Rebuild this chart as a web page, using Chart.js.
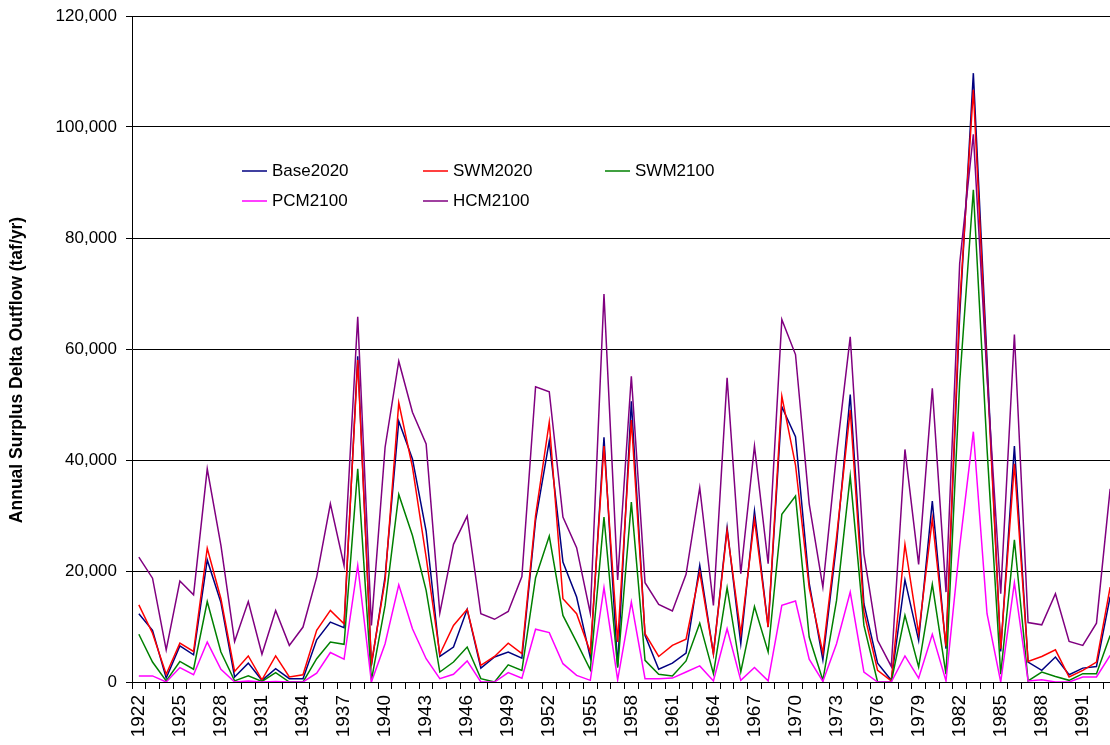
<!DOCTYPE html>
<html>
<head>
<meta charset="utf-8">
<script src="https://cdn.jsdelivr.net/npm/chart.js@4.4.1/dist/chart.umd.min.js"></script>
<style>
  html, body { margin: 0; padding: 0; background: #ffffff; overflow: hidden; width: 1110px; height: 745px; }
  #wrap { position: absolute; left: 0; top: 0; width: 1122px; height: 745px; }
</style>
</head>
<body>
<div id="wrap"><canvas id="c" width="1122" height="745"></canvas></div>
<script>
// Water years on the category axis
const years = [
  '1922','1923','1924','1925','1926','1927','1928','1929','1930','1931',
  '1932','1933','1934','1935','1936','1937','1938','1939','1940','1941',
  '1942','1943','1944','1945','1946','1947','1948','1949','1950','1951',
  '1952','1953','1954','1955','1956','1957','1958','1959','1960','1961',
  '1962','1963','1964','1965','1966','1967','1968','1969','1970','1971',
  '1972','1973','1974','1975','1976','1977','1978','1979','1980','1981',
  '1982','1983','1984','1985','1986','1987','1988','1989','1990','1991',
  '1992','1993'
];

// Annual surplus Delta outflow by scenario (taf/yr)
const base2020 = [
  12300, 9300, 700, 6500, 4900, 22000, 14300, 900, 3400, 300,
  2400, 600, 600, 7600, 10800, 9800, 58700, 3000, 19000, 47000,
  40200, 27200, 4600, 6300, 13100, 2500, 4500, 5400, 4300, 29100,
  43400, 21600, 15300, 4400, 44100, 2800, 50600, 8400, 2300, 3400,
  5200, 21000, 5100, 27800, 6900, 30800, 9900, 49600, 44200, 17800,
  4000, 24900, 51800, 14100, 3400, 300, 18400, 7500, 32600, 6000,
  66000, 109700, 58000, 5500, 42500, 3600, 2100, 4500, 1300, 2500,
  2800, 15400
];
const swm2020 = [
  13900, 8800, 1400, 7000, 5500, 24100, 15000, 1900, 4700, 400,
  4700, 900, 1300, 9300, 12900, 10500, 58000, 3300, 18300, 50300,
  38700, 22500, 5000, 10200, 13100, 3000, 4600, 7000, 5100, 30000,
  46800, 15000, 12300, 5400, 42500, 7200, 47200, 8700, 4600, 6600,
  7700, 19800, 5100, 27300, 8700, 29300, 9900, 51500, 39100, 17000,
  5200, 26100, 49000, 12600, 2100, 200, 24800, 8700, 29400, 6400,
  68000, 106700, 56000, 6000, 39300, 3700, 4600, 5800, 900, 2100,
  3600, 17100
];
const swm2100 = [
  8600, 3600, 200, 3700, 2300, 14500, 5400, 200, 1100, 100,
  1700, 0, 0, 4200, 7200, 6800, 38400, 300, 13800, 33800,
  26400, 16500, 1800, 3600, 6300, 600, 0, 3100, 2100, 18800,
  26300, 12000, 7200, 2200, 29700, 2600, 32400, 3900, 1400, 1100,
  3800, 10600, 1500, 17000, 1800, 13600, 5400, 30200, 33500, 8100,
  300, 14700, 37100, 10200, 0, 0, 12000, 2700, 17600, 1400,
  54000, 88700, 42000, 1400, 25600, 200, 1800, 1000, 300, 1500,
  1500, 8400
];
const pcm2100 = [
  1100, 1100, 0, 2600, 1300, 7200, 2300, 0, 200, 0,
  100, 0, 0, 1600, 5300, 4100, 21000, 0, 6900, 17500,
  9600, 4200, 600, 1400, 3800, 0, 0, 1700, 700, 9500,
  8900, 3300, 1200, 300, 17000, 400, 14400, 600, 600, 700,
  1800, 2900, 200, 9600, 300, 2600, 200, 13800, 14600, 4100,
  100, 6900, 16200, 1800, 0, 0, 4700, 700, 8600, 200,
  24400, 45100, 12300, 0, 17900, 200, 400, 0, 0, 900,
  900, 4800
];
const hcm2100 = [
  22500, 18700, 5800, 18200, 15700, 38400, 24600, 7300, 14500, 5000,
  12900, 6600, 9900, 18900, 32100, 21000, 65800, 10200, 42300, 57800,
  48600, 42900, 12400, 24800, 29900, 12300, 11300, 12700, 19000, 53200,
  52300, 29700, 24200, 12400, 69900, 18400, 55100, 17900, 14000, 12800,
  19400, 35000, 13800, 54800, 19500, 42500, 21300, 65300, 59000, 32100,
  17100, 41100, 62200, 23100, 7500, 2800, 41900, 21200, 52900, 16200,
  75400, 98700, 55000, 15900, 62600, 10700, 10300, 15900, 7300, 6600,
  10600, 34800
];

const seriesNames = ['Base2020', 'SWM2020', 'SWM2100', 'PCM2100', 'HCM2100'];
const seriesColors = ['#000080', '#ff0000', '#008000', '#ff00ff', '#800080'];
const seriesValues = [base2020, swm2020, swm2100, pcm2100, hcm2100];

const yTitle = 'Annual Surplus Delta Outflow (taf/yr)';
const FONT = 'Liberation Sans, Arial, Helvetica, sans-serif';

// Legend drawn inside the plot area as a three-column grid
const insideLegend = {
  id: 'insideLegend',
  afterDraw(chart) {
    const ctx = chart.ctx;
    const colX = [242, 423, 605];
    const rowY = [171, 201];
    ctx.save();
    ctx.font = '17px ' + FONT;
    ctx.textBaseline = 'middle';
    ctx.textAlign = 'left';
    chart.data.datasets.forEach((ds, i) => {
      const x = colX[i % 3];
      const y = rowY[Math.floor(i / 3)];
      ctx.strokeStyle = ds.borderColor;
      ctx.lineWidth = ds.borderWidth;
      ctx.beginPath();
      ctx.moveTo(x, y);
      ctx.lineTo(x + 25, y);
      ctx.stroke();
      ctx.fillStyle = '#000';
      ctx.fillText(ds.label, x + 30, y);
    });
    ctx.restore();
  }
};

// Vertical value-axis title, placed at the left edge of the canvas
const axisTitle = {
  id: 'axisTitle',
  afterDraw(chart) {
    const ctx = chart.ctx;
    ctx.save();
    ctx.translate(17, 370);
    ctx.rotate(-Math.PI / 2);
    ctx.font = 'bold 17.5px ' + FONT;
    ctx.fillStyle = '#000';
    ctx.textAlign = 'center';
    ctx.textBaseline = 'middle';
    ctx.fillText(yTitle, 0, 0);
    ctx.restore();
  }
};

const datasets = seriesNames.map((name, i) => ({
  label: name,
  data: seriesValues[i],
  borderColor: seriesColors[i],
  backgroundColor: seriesColors[i],
  borderWidth: 1.5,
  pointRadius: 0,
  tension: 0,
  fill: false,
  order: seriesNames.length - i
}));

new Chart(document.getElementById('c'), {
  type: 'line',
  data: { labels: years, datasets },
  options: {
    responsive: false,
    animation: false,
    devicePixelRatio: 1,
    layout: { padding: { left: 0, top: 16, right: 5, bottom: 0 } },
    plugins: {
      legend: { display: false },
      tooltip: { enabled: false }
    },
    scales: {
      x: {
        type: 'category',
        offset: true,
        grid: {
          display: true,
          offset: true,
          drawOnChartArea: false,
          drawTicks: true,
          tickLength: 7,
          color: '#000'
        },
        border: { display: true, color: '#000', width: 1 },
        ticks: {
          autoSkip: false,
          minRotation: 90,
          maxRotation: 90,
          padding: 6,
          color: '#000',
          font: { family: FONT, size: 19 },
          callback: function (value, index) {
            return index % 3 === 0 ? this.getLabelForValue(value) : '';
          }
        },
        afterFit(scale) {
          scale.height = 63;
          scale.paddingLeft = 0;
          scale.paddingRight = 0;
        }
      },
      y: {
        min: 0,
        max: 120000,
        grid: { color: '#000', lineWidth: 1, tickLength: 6, drawTicks: true },
        border: { display: true, color: '#000', width: 1 },
        ticks: {
          stepSize: 20000,
          padding: 9,
          color: '#000',
          font: { family: FONT, size: 17 },
          callback: (v) => v.toLocaleString('en-US')
        },
        afterFit(scale) {
          scale.width = 132;
          scale.paddingTop = 0;
          scale.paddingBottom = 0;
        }
      }
    }
  },
  plugins: [insideLegend, axisTitle]
});
</script>
</body>
</html>
